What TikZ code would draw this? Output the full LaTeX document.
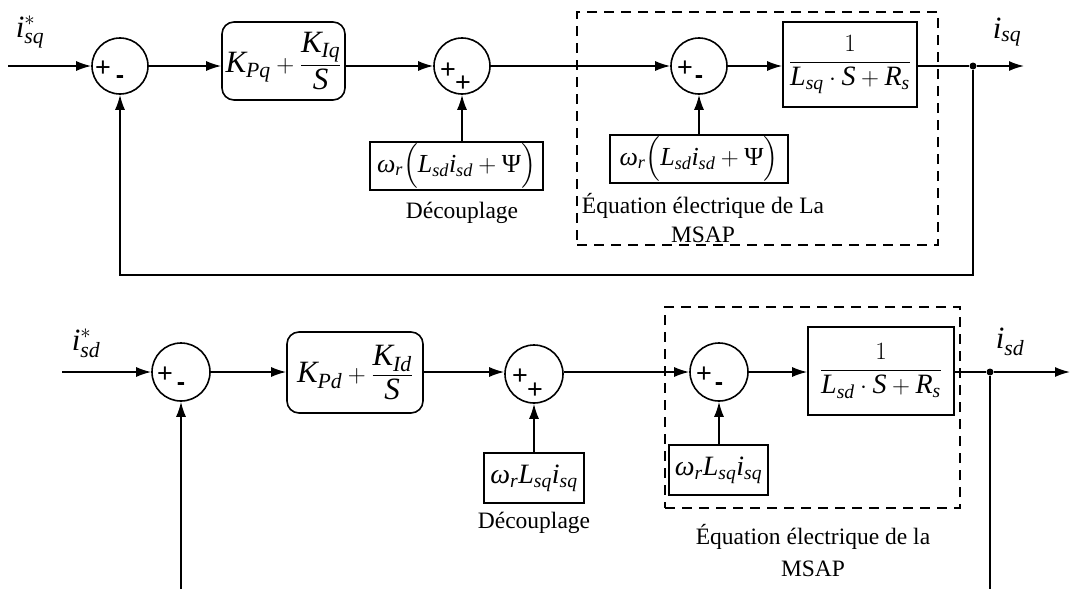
\documentclass[tikz,border=0pt]{standalone}
\usepackage{amsmath}
\usepackage{fontspec}
\setmainfont{Liberation Serif}
\newfontfamily\sumfont{Liberation Sans}
\usetikzlibrary{arrows.meta}
\newcommand{\ti}[1]{\textit{#1}}
\begin{document}
\begin{tikzpicture}[x=1pt,y=-1pt,
  ln/.style={line width=1.6pt},
  arr/.style={line width=1.6pt,-{Latex[length=15pt,width=10pt]}},
  sumnode/.style={circle,draw,line width=1.6pt,minimum size=56pt,inner sep=0pt},
  block/.style={draw,line width=1.6pt,inner sep=0pt},
  dbox/.style={draw,line width=1.6pt,dash pattern=on 10pt off 7pt,inner sep=0pt},
  lbl/.style={font=\fontsize{23.5}{29}\selectfont,align=center,inner sep=0pt},
  eq/.style={font=\fontsize{31}{33}\selectfont},
  eqs/.style={font=\fontsize{28}{30}\selectfont},
  eqd/.style={font=\fontsize{26}{28}\selectfont},
  sgn/.style={font=\sumfont\fontsize{27}{27}\selectfont,inner sep=0pt},
  sgnm/.style={font=\sumfont\bfseries\fontsize{25}{25}\selectfont,inner sep=0pt},
  dot/.style={circle,fill,inner sep=0pt,minimum size=7pt}]
\useasboundingbox (0,0) rectangle (1070,589);

% ---------- top loop ----------
\coordinate (in1) at (8,66);
\node[sumnode] (s1) at (120,66) {};
\node[sgn] (s1p) at (103,69) {+};
\node[sgnm] (s1m) at (120,80) {-};
\node[block,rounded corners=12pt,minimum width=123pt,minimum height=78pt,eq] (pi1) at (283.5,61) {$\ti{K}_{\ti{Pq}}+\dfrac{\ti{K}_{\ti{Iq}}}{\ti{S}}$};
\node[sumnode] (s2) at (462,66) {};
\node[sgn] (s2p) at (448,71) {+};
\node[sgn] (s2q) at (463,84) {+};
\node[block,minimum width=173pt,minimum height=48pt,eqd] (dec1) at (456.5,166) {$\ti{ω}_{\ti{r}}\Bigl(\ti{L}_{\ti{sd}}\ti{i}_{\ti{sd}}+\textup{Ψ}\Bigr)$};
\node[lbl] (tdec1) at (462,213) {Découplage};
\node[dbox,minimum width=361pt,minimum height=233pt] (eq1) at (757.5,128.5) {};
\node[sumnode] (s3) at (699,66) {};
\node[sgn] (s3p) at (685,69) {+};
\node[sgnm] (s3m) at (699,80) {-};
\node[block,minimum width=178pt,minimum height=48pt,eqd] (dec2) at (699,159) {$\ti{ω}_{\ti{r}}\Bigl(\ti{L}_{\ti{sd}}\ti{i}_{\ti{sd}}+\textup{Ψ}\Bigr)$};
\node[lbl] (teq1) at (703,218) {Équation électrique de La\\MSAP};
\node[block,minimum width=134pt,minimum height=85pt,eqs] (tf1) at (850,64.5) {$\dfrac{1}{\ti{L}_{\ti{sq}}\cdot \ti{S}+\ti{R}_{\ti{s}}}$};
\node[dot] (d1) at (973,66) {};
\coordinate (out1) at (1024,66);
\coordinate (fb1) at (973,275);
\node[eq] (lin1) at (30,32) {$\ti{i}_{\ti{sq}}^{*}$};
\node[eq] (lout1) at (1007,32) {$\ti{i}_{\ti{sq}}$};

\draw[arr] (in1) -- (s1.west);
\draw[arr] (s1.east) -- (s1.east -| pi1.west);
\draw[arr] (s1.east -| pi1.east) -- (s2.west);
\draw[arr] (s2 |- dec1.north) -- (s2.south);
\draw[arr] (s2.east) -- (s3.west);
\draw[arr] (s3 |- dec2.north) -- (s3.south);
\draw[arr] (s3.east) -- (s3.east -| tf1.west);
\draw[ln] (s3.east -| tf1.east) -- (d1);
\draw[arr] (d1) -- (out1);
\draw[arr] (d1) -- (fb1) -| (s1.south);

% ---------- bottom loop ----------
\coordinate (in2) at (62,372);
\node[sumnode,minimum size=58pt] (s4) at (181,372) {};
\node[sgn] (s4p) at (165,375) {+};
\node[sgnm] (s4m) at (181,387) {-};
\node[block,rounded corners=12pt,minimum width=136pt,minimum height=81pt,eq] (pi2) at (355,372.5) {$\ti{K}_{\ti{Pd}}+\dfrac{\ti{K}_{\ti{Id}}}{\ti{S}}$};
\node[sumnode,minimum size=58pt] (s5) at (534,374) {};
\node[sgn] (s5p) at (520,377) {+};
\node[sgn] (s5q) at (535,391) {+};
\node[block,minimum width=100pt,minimum height=50pt,eqs] (dec3) at (534,478) {$\ti{ω}_{\ti{r}}\ti{L}_{\ti{sq}}\ti{i}_{\ti{sq}}$};
\node[lbl] (tdec2) at (534,523) {Découplage};
\node[dbox,minimum width=295pt,minimum height=201pt] (eq2) at (812.5,407.5) {};
\node[sumnode,minimum size=58pt] (s6) at (719,372) {};
\node[sgn] (s6p) at (704,375) {+};
\node[sgnm] (s6m) at (719,387) {-};
\node[block,minimum width=99pt,minimum height=50pt,eqs] (dec4) at (718.5,470) {$\ti{ω}_{\ti{r}}\ti{L}_{\ti{sq}}\ti{i}_{\ti{sq}}$};
\node[lbl,font=\fontsize{23.5}{32}\selectfont] (teq2) at (813,551) {Équation électrique de la\\MSAP};
\node[block,minimum width=146pt,minimum height=88pt,eqs] (tf2) at (881,371) {$\dfrac{1}{\ti{L}_{\ti{sd}}\cdot \ti{S}+\ti{R}_{\ti{s}}}$};
\node[dot] (d2) at (990,372) {};
\coordinate (out2) at (1070,372);
\coordinate (fb2a) at (990,589);
\coordinate (fb2b) at (181,589);
\node[eq] (lin2) at (86,343) {$\ti{i}_{\ti{sd}}^{*}$};
\node[eq] (lout2) at (1010,342) {$\ti{i}_{\ti{sd}}$};

\draw[arr] (in2) -- (s4.west);
\draw[arr] (s4.east) -- (s4.east -| pi2.west);
\draw[arr] (s4.east -| pi2.east) -- (s5.west |- s4.east);
\draw[arr] (s5 |- dec3.north) -- (s5.south);
\draw[arr] (s5.east |- s4.east) -- (s6.west);
\draw[arr] (s6 |- dec4.north) -- (s6.south);
\draw[arr] (s6.east) -- (s6.east -| tf2.west);
\draw[ln] (s6.east -| tf2.east) -- (d2);
\draw[arr] (d2) -- (out2);
\draw[ln] (d2) -- (fb2a);
\draw[arr] (fb2b) -- (s4.south);
\end{tikzpicture}
\end{document}
